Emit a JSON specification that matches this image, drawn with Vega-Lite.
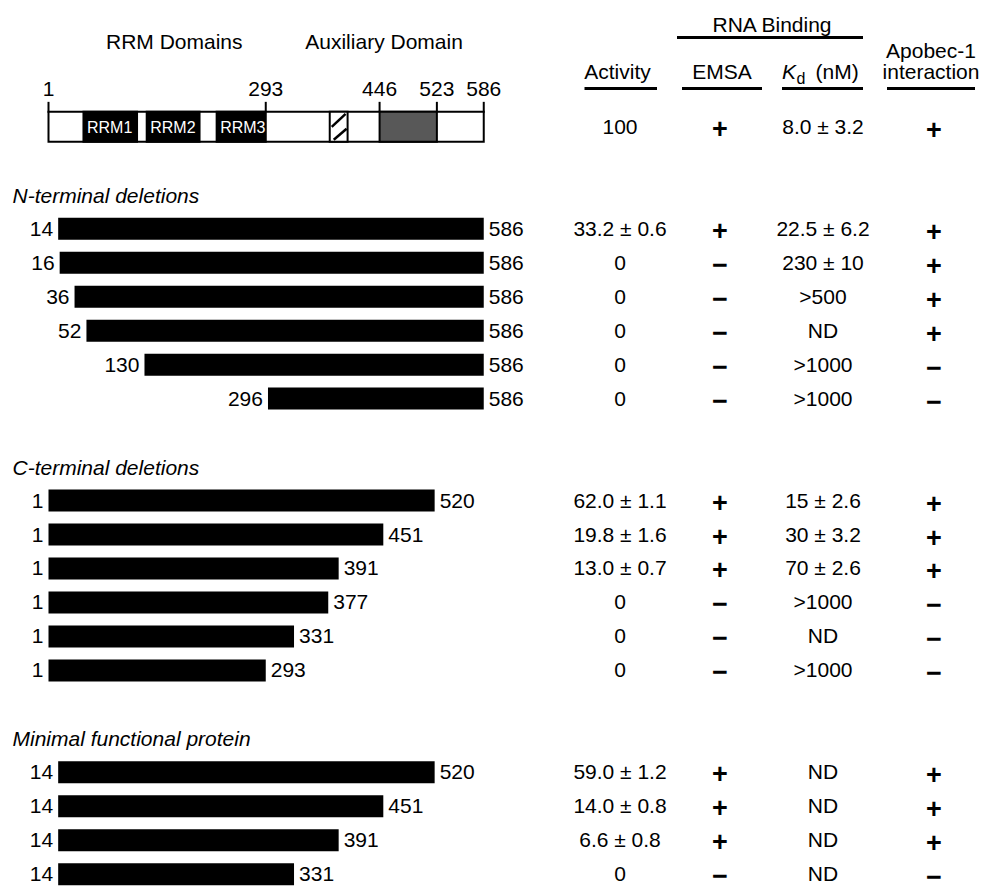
{
  "$schema": "https://vega.github.io/schema/vega-lite/v6.json",
  "width": 987,
  "height": 892,
  "autosize": {"type": "fit", "contains": "padding"},
  "padding": 0,
  "background": "white",
  "config": {
    "view": {"stroke": null},
    "text": {"font": "Liberation Sans", "fontSize": 21, "fill": "black"}
  },
  "datasets": {
    "constructs": [
      {"grp": "full", "line": 0, "start": 1, "end": 586, "activity": "100", "emsa": "+", "kd": "8.0 ± 3.2", "apobec": "+"},
      {"grp": "N", "line": 3, "start": 14, "end": 586, "activity": "33.2 ± 0.6", "emsa": "+", "kd": "22.5 ± 6.2", "apobec": "+"},
      {"grp": "N", "line": 4, "start": 16, "end": 586, "activity": "0", "emsa": "−", "kd": "230 ± 10", "apobec": "+"},
      {"grp": "N", "line": 5, "start": 36, "end": 586, "activity": "0", "emsa": "−", "kd": ">500", "apobec": "+"},
      {"grp": "N", "line": 6, "start": 52, "end": 586, "activity": "0", "emsa": "−", "kd": "ND", "apobec": "+"},
      {"grp": "N", "line": 7, "start": 130, "end": 586, "activity": "0", "emsa": "−", "kd": ">1000", "apobec": "−"},
      {"grp": "N", "line": 8, "start": 296, "end": 586, "activity": "0", "emsa": "−", "kd": ">1000", "apobec": "−"},
      {"grp": "C", "line": 11, "start": 1, "end": 520, "activity": "62.0 ± 1.1", "emsa": "+", "kd": "15 ± 2.6", "apobec": "+"},
      {"grp": "C", "line": 12, "start": 1, "end": 451, "activity": "19.8 ± 1.6", "emsa": "+", "kd": "30 ± 3.2", "apobec": "+"},
      {"grp": "C", "line": 13, "start": 1, "end": 391, "activity": "13.0 ± 0.7", "emsa": "+", "kd": "70 ± 2.6", "apobec": "+"},
      {"grp": "C", "line": 14, "start": 1, "end": 377, "activity": "0", "emsa": "−", "kd": ">1000", "apobec": "−"},
      {"grp": "C", "line": 15, "start": 1, "end": 331, "activity": "0", "emsa": "−", "kd": "ND", "apobec": "−"},
      {"grp": "C", "line": 16, "start": 1, "end": 293, "activity": "0", "emsa": "−", "kd": ">1000", "apobec": "−"},
      {"grp": "M", "line": 19, "start": 14, "end": 520, "activity": "59.0 ± 1.2", "emsa": "+", "kd": "ND", "apobec": "+"},
      {"grp": "M", "line": 20, "start": 14, "end": 451, "activity": "14.0 ± 0.8", "emsa": "+", "kd": "ND", "apobec": "+"},
      {"grp": "M", "line": 21, "start": 14, "end": 391, "activity": "6.6 ± 0.8", "emsa": "+", "kd": "ND", "apobec": "+"},
      {"grp": "M", "line": 22, "start": 14, "end": 331, "activity": "0", "emsa": "−", "kd": "ND", "apobec": "−"}
    ],
    "domains": [
      {"part": "box", "label": "", "start": 1, "end": 586, "line": 0},
      {"part": "rrm", "label": "RRM1", "start": 48, "end": 120, "line": 0},
      {"part": "rrm", "label": "RRM2", "start": 133, "end": 204, "line": 0},
      {"part": "rrm", "label": "RRM3", "start": 227, "end": 293, "line": 0},
      {"part": "hatch", "label": "", "start": 379, "end": 403, "line": 0},
      {"part": "stipple", "label": "", "start": 446, "end": 523, "line": 0}
    ],
    "ticks": [
      {"pos": 1, "line": -1},
      {"pos": 293, "line": -1},
      {"pos": 446, "line": -1},
      {"pos": 523, "line": -1},
      {"pos": 586, "line": -1}
    ],
    "sections": [
      {"title": "N-terminal deletions", "line": 2},
      {"title": "C-terminal deletions", "line": 10},
      {"title": "Minimal functional protein", "line": 18}
    ],
    "domainHeads": [
      {"label": "RRM Domains", "pos": 170, "line": -2},
      {"label": "Auxiliary Domain", "pos": 452, "line": -2}
    ]
  },
  "layer": [
    {
      "layer": [
        {
          "data": {"name": "constructs"},
          "transform": [{"filter": "datum.grp !== 'full'"}],
          "mark": {"type": "rect", "fill": "black", "yOffset": -11, "y2Offset": 11},
          "encoding": {
            "x": {"field": "start", "type": "quantitative", "scale": {"domain": [-64.19, 1262.4], "nice": false, "zero": false}, "axis": null},
            "x2": {"field": "end"},
            "y": {"field": "line", "type": "quantitative", "scale": {"domain": [-3.733, 22.258], "nice": false, "zero": false, "reverse": true}, "axis": null},
            "y2": {"field": "line"}
          }
        },
        {
          "data": {"name": "constructs"},
          "transform": [{"filter": "datum.grp !== 'full'"}],
          "mark": {"type": "text", "align": "right", "baseline": "middle", "dx": -5, "dy": 1},
          "encoding": {
            "x": {"field": "start", "type": "quantitative", "scale": {"domain": [-64.19, 1262.4], "nice": false, "zero": false}, "axis": null},
            "y": {"field": "line", "type": "quantitative", "axis": null},
            "text": {"field": "start", "type": "nominal"}
          }
        },
        {
          "data": {"name": "constructs"},
          "transform": [{"filter": "datum.grp !== 'full'"}],
          "mark": {"type": "text", "align": "left", "baseline": "middle", "dx": 5, "dy": 1},
          "encoding": {
            "x": {"field": "end", "type": "quantitative", "scale": {"domain": [-64.19, 1262.4], "nice": false, "zero": false}, "axis": null},
            "y": {"field": "line", "type": "quantitative", "axis": null},
            "text": {"field": "end", "type": "nominal"}
          }
        },
        {
          "data": {"name": "sections"},
          "mark": {"type": "text", "align": "left", "baseline": "middle", "dx": -36, "dy": 2, "fontStyle": "italic"},
          "encoding": {
            "x": {"datum": 1, "type": "quantitative", "scale": {"domain": [-64.19, 1262.4], "nice": false, "zero": false}, "axis": null},
            "y": {"field": "line", "type": "quantitative", "axis": null},
            "text": {"field": "title", "type": "nominal"}
          }
        },
        {
          "data": {"name": "domainHeads"},
          "mark": {"type": "text", "align": "center", "baseline": "alphabetic", "dy": -9.5},
          "encoding": {
            "x": {"field": "pos", "type": "quantitative", "scale": {"domain": [-64.19, 1262.4], "nice": false, "zero": false}, "axis": null},
            "y": {"field": "line", "type": "quantitative", "axis": null},
            "text": {"field": "label", "type": "nominal"}
          }
        },
        {
          "data": {"name": "ticks"},
          "mark": {"type": "rule", "stroke": "black", "strokeWidth": 2, "yOffset": 9, "y2Offset": 20},
          "encoding": {
            "x": {"field": "pos", "type": "quantitative", "scale": {"domain": [-64.19, 1262.4], "nice": false, "zero": false}, "axis": null},
            "y": {"field": "line", "type": "quantitative", "axis": null},
            "y2": {"field": "line"}
          }
        },
        {
          "data": {"name": "ticks"},
          "mark": {"type": "text", "align": "center", "baseline": "alphabetic", "dy": 3},
          "encoding": {
            "x": {"field": "pos", "type": "quantitative", "scale": {"domain": [-64.19, 1262.4], "nice": false, "zero": false}, "axis": null},
            "y": {"field": "line", "type": "quantitative", "axis": null},
            "text": {"field": "pos", "type": "nominal"}
          }
        },
        {
          "data": {"name": "domains"},
          "mark": {"type": "rect", "stroke": "black", "strokeWidth": 2, "yOffset": -15, "y2Offset": 15},
          "encoding": {
            "x": {"field": "start", "type": "quantitative", "scale": {"domain": [-64.19, 1262.4], "nice": false, "zero": false}, "axis": null},
            "x2": {"field": "end"},
            "y": {"field": "line", "type": "quantitative", "axis": null},
            "y2": {"field": "line"},
            "fill": {"field": "part", "type": "nominal", "scale": {"domain": ["box", "rrm", "hatch", "stipple"], "range": ["white", "black", "white", "#585858"]}, "legend": null}
          }
        },
        {
          "data": {"name": "domains"},
          "transform": [{"filter": "datum.part === 'hatch'"}],
          "mark": {"type": "rule", "stroke": "black", "strokeWidth": 2.5, "xOffset": 2, "x2Offset": -2, "yOffset": 0, "y2Offset": -13},
          "encoding": {
            "x": {"field": "start", "type": "quantitative", "scale": {"domain": [-64.19, 1262.4], "nice": false, "zero": false}, "axis": null},
            "x2": {"field": "end"},
            "y": {"field": "line", "type": "quantitative", "axis": null},
            "y2": {"field": "line"}
          }
        },
        {
          "data": {"name": "domains"},
          "transform": [{"filter": "datum.part === 'hatch'"}],
          "mark": {"type": "rule", "stroke": "black", "strokeWidth": 2.5, "xOffset": 4, "x2Offset": -1, "yOffset": 13, "y2Offset": 2},
          "encoding": {
            "x": {"field": "start", "type": "quantitative", "scale": {"domain": [-64.19, 1262.4], "nice": false, "zero": false}, "axis": null},
            "x2": {"field": "end"},
            "y": {"field": "line", "type": "quantitative", "axis": null},
            "y2": {"field": "line"}
          }
        },
        {
          "data": {"name": "domains"},
          "transform": [{"filter": "datum.part === 'rrm'"}],
          "mark": {"type": "text", "align": "left", "baseline": "middle", "dx": 3.5, "dy": 1, "fontSize": 16, "fill": "white"},
          "encoding": {
            "x": {"field": "start", "type": "quantitative", "scale": {"domain": [-64.19, 1262.4], "nice": false, "zero": false}, "axis": null},
            "y": {"field": "line", "type": "quantitative", "axis": null},
            "text": {"field": "label", "type": "nominal"}
          }
        }
      ]
    },
    {
      "layer": [
        {
          "data": {"name": "constructs"},
          "mark": {"type": "text", "align": "center", "baseline": "middle", "dx": 2.5, "dy": 1},
          "encoding": {
            "x": {"datum": "activity", "type": "nominal", "scale": {"type": "point", "domain": ["activity", "emsa", "kd", "apobec"], "range": [617.5, 931], "padding": 0}, "axis": null},
            "y": {"field": "line", "type": "quantitative", "axis": null},
            "text": {"field": "activity", "type": "nominal"}
          }
        },
        {
          "data": {"name": "constructs"},
          "mark": {"type": "text", "align": "center", "baseline": "middle", "dx": -2, "dy": 3, "fontSize": 27, "fontWeight": "bold"},
          "encoding": {
            "x": {"datum": "emsa", "type": "nominal", "scale": {"type": "point", "domain": ["activity", "emsa", "kd", "apobec"], "range": [617.5, 931], "padding": 0}, "axis": null},
            "y": {"field": "line", "type": "quantitative", "axis": null},
            "text": {"field": "emsa", "type": "nominal"}
          }
        },
        {
          "data": {"name": "constructs"},
          "mark": {"type": "text", "align": "center", "baseline": "middle", "dx": -3.5, "dy": 1},
          "encoding": {
            "x": {"datum": "kd", "type": "nominal", "scale": {"type": "point", "domain": ["activity", "emsa", "kd", "apobec"], "range": [617.5, 931], "padding": 0}, "axis": null},
            "y": {"field": "line", "type": "quantitative", "axis": null},
            "text": {"field": "kd", "type": "nominal"}
          }
        },
        {
          "data": {"name": "constructs"},
          "mark": {"type": "text", "align": "center", "baseline": "middle", "dx": 3, "dy": 4, "fontSize": 27, "fontWeight": "bold"},
          "encoding": {
            "x": {"datum": "apobec", "type": "nominal", "scale": {"type": "point", "domain": ["activity", "emsa", "kd", "apobec"], "range": [617.5, 931], "padding": 0}, "axis": null},
            "y": {"field": "line", "type": "quantitative", "axis": null},
            "text": {"field": "apobec", "type": "nominal"}
          }
        },
        {
          "data": {"values": [{"label": "Activity", "col": "activity"}, {"label": "EMSA", "col": "emsa"}, {"label": "interaction", "col": "apobec"}]},
          "mark": {"type": "text", "align": "center", "baseline": "alphabetic", "dy": -14},
          "encoding": {
            "x": {"field": "col", "type": "nominal", "scale": {"type": "point", "domain": ["activity", "emsa", "kd", "apobec"], "range": [617.5, 931], "padding": 0}, "axis": null},
            "y": {"datum": -1, "type": "quantitative", "axis": null},
            "text": {"field": "label", "type": "nominal"}
          }
        },
        {
          "data": {"values": [{"label": "Apobec-1"}]},
          "mark": {"type": "text", "align": "center", "baseline": "alphabetic", "dy": -1},
          "encoding": {
            "x": {"datum": "apobec", "type": "nominal", "scale": {"type": "point", "domain": ["activity", "emsa", "kd", "apobec"], "range": [617.5, 931], "padding": 0}, "axis": null},
            "y": {"datum": -2, "type": "quantitative", "axis": null},
            "text": {"field": "label", "type": "nominal"}
          }
        },
        {
          "data": {"values": [{"label": "K"}]},
          "mark": {"type": "text", "align": "left", "baseline": "alphabetic", "dx": -44.5, "dy": -14, "fontStyle": "italic"},
          "encoding": {
            "x": {"datum": "kd", "type": "nominal", "scale": {"type": "point", "domain": ["activity", "emsa", "kd", "apobec"], "range": [617.5, 931], "padding": 0}, "axis": null},
            "y": {"datum": -1, "type": "quantitative", "axis": null},
            "text": {"field": "label", "type": "nominal"}
          }
        },
        {
          "data": {"values": [{"label": "d"}]},
          "mark": {"type": "text", "align": "left", "baseline": "alphabetic", "dx": -30, "dy": -9, "fontSize": 16},
          "encoding": {
            "x": {"datum": "kd", "type": "nominal", "scale": {"type": "point", "domain": ["activity", "emsa", "kd", "apobec"], "range": [617.5, 931], "padding": 0}, "axis": null},
            "y": {"datum": -1, "type": "quantitative", "axis": null},
            "text": {"field": "label", "type": "nominal"}
          }
        },
        {
          "data": {"values": [{"label": "(nM)"}]},
          "mark": {"type": "text", "align": "left", "baseline": "alphabetic", "dx": -11, "dy": -14},
          "encoding": {
            "x": {"datum": "kd", "type": "nominal", "scale": {"type": "point", "domain": ["activity", "emsa", "kd", "apobec"], "range": [617.5, 931], "padding": 0}, "axis": null},
            "y": {"datum": -1, "type": "quantitative", "axis": null},
            "text": {"field": "label", "type": "nominal"}
          }
        },
        {
          "data": {"values": [{"label": "RNA Binding"}]},
          "mark": {"type": "text", "align": "center", "baseline": "alphabetic", "dx": 50, "dy": 7},
          "encoding": {
            "x": {"datum": "emsa", "type": "nominal", "scale": {"type": "point", "domain": ["activity", "emsa", "kd", "apobec"], "range": [617.5, 931], "padding": 0}, "axis": null},
            "y": {"datum": -3, "type": "quantitative", "axis": null},
            "text": {"field": "label", "type": "nominal"}
          }
        },
        {
          "data": {"values": [{}]},
          "mark": {"type": "rule", "stroke": "black", "strokeWidth": 3, "xOffset": -33, "x2Offset": 39.5, "yOffset": -4.3},
          "encoding": {
            "x": {"datum": "activity", "type": "nominal", "scale": {"type": "point", "domain": ["activity", "emsa", "kd", "apobec"], "range": [617.5, 931], "padding": 0}, "axis": null},
            "x2": {"datum": "activity"},
            "y": {"datum": -1, "type": "quantitative", "axis": null}
          }
        },
        {
          "data": {"values": [{}]},
          "mark": {"type": "rule", "stroke": "black", "strokeWidth": 3, "xOffset": -40, "x2Offset": 40, "yOffset": -4.3},
          "encoding": {
            "x": {"datum": "emsa", "type": "nominal", "scale": {"type": "point", "domain": ["activity", "emsa", "kd", "apobec"], "range": [617.5, 931], "padding": 0}, "axis": null},
            "x2": {"datum": "emsa"},
            "y": {"datum": -1, "type": "quantitative", "axis": null}
          }
        },
        {
          "data": {"values": [{}]},
          "mark": {"type": "rule", "stroke": "black", "strokeWidth": 3, "xOffset": -44.5, "x2Offset": 36.5, "yOffset": -4.3},
          "encoding": {
            "x": {"datum": "kd", "type": "nominal", "scale": {"type": "point", "domain": ["activity", "emsa", "kd", "apobec"], "range": [617.5, 931], "padding": 0}, "axis": null},
            "x2": {"datum": "kd"},
            "y": {"datum": -1, "type": "quantitative", "axis": null}
          }
        },
        {
          "data": {"values": [{}]},
          "mark": {"type": "rule", "stroke": "black", "strokeWidth": 3, "xOffset": -44, "x2Offset": 44, "yOffset": -4.3},
          "encoding": {
            "x": {"datum": "apobec", "type": "nominal", "scale": {"type": "point", "domain": ["activity", "emsa", "kd", "apobec"], "range": [617.5, 931], "padding": 0}, "axis": null},
            "x2": {"datum": "apobec"},
            "y": {"datum": -1, "type": "quantitative", "axis": null}
          }
        },
        {
          "data": {"values": [{}]},
          "mark": {"type": "rule", "stroke": "black", "strokeWidth": 3, "xOffset": -45, "x2Offset": 36.5, "yOffset": 12.5},
          "encoding": {
            "x": {"datum": "emsa", "type": "nominal", "scale": {"type": "point", "domain": ["activity", "emsa", "kd", "apobec"], "range": [617.5, 931], "padding": 0}, "axis": null},
            "x2": {"datum": "kd"},
            "y": {"datum": -3, "type": "quantitative", "axis": null}
          }
        }
      ]
    }
  ],
  "resolve": {"scale": {"x": "independent"}}
}
